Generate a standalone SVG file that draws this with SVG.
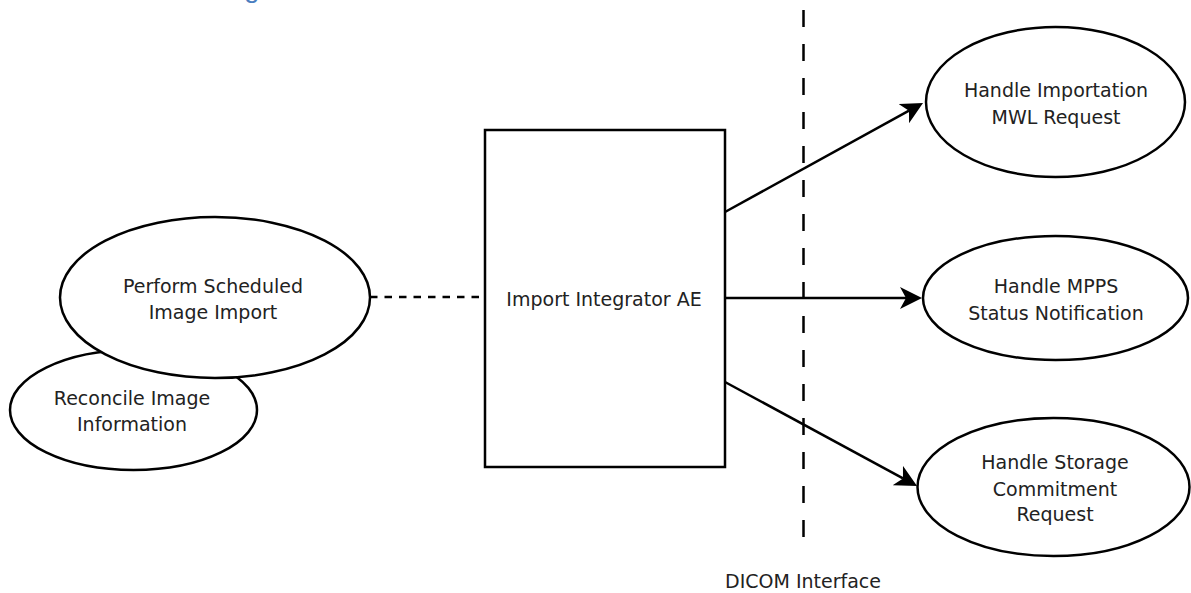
<svg xmlns="http://www.w3.org/2000/svg" width="1191" height="593" viewBox="0 0 1191 593">
  <style>
    .shape { fill: #ffffff; stroke: #000000; stroke-width: 2.5; }
    .lbl { font-family: "DejaVu Sans", Verdana, sans-serif; font-size: 19px; fill: #222222; text-anchor: middle; }
    .conn { fill: none; stroke: #000000; stroke-width: 2.5; }
    .title { font-family: "Liberation Sans", Arial, sans-serif; font-size: 28px; fill: #4A7EC0; }
  </style>
  <defs>
    <marker id="arrow" viewBox="0 0 22 22" refX="6" refY="11" markerWidth="22" markerHeight="22" markerUnits="userSpaceOnUse" orient="auto">
      <path d="M22,11 L0,0 L6,11 L0,22 Z" fill="#000000"/>
    </marker>
  </defs>
  <rect width="1191" height="593" fill="#ffffff"/>

  <text class="title" x="244" y="-3">g</text>

  <g id="connectors">
    <line class="conn" x1="370" y1="297" x2="485" y2="297" stroke-dasharray="7.5 7"/>
    <line class="conn" x1="803.5" y1="10" x2="803.5" y2="537" stroke-width="3" stroke-dasharray="17 17"/>
    <line class="conn" x1="725" y1="212" x2="909" y2="110.7" marker-end="url(#arrow)"/>
    <line class="conn" x1="725" y1="298" x2="906" y2="298" marker-end="url(#arrow)"/>
    <line class="conn" x1="725" y1="382" x2="903" y2="478.4" marker-end="url(#arrow)"/>
  </g>

  <g id="reconcile">
    <ellipse class="shape" cx="133.5" cy="410" rx="123.5" ry="60"/>
    <text class="lbl" x="132" y="405">Reconcile Image</text>
    <text class="lbl" x="132" y="431">Information</text>
  </g>

  <g id="perform">
    <ellipse class="shape" cx="215" cy="297.5" rx="155" ry="80.5"/>
    <text class="lbl" x="213" y="293">Perform Scheduled</text>
    <text class="lbl" x="213" y="319">Image Import</text>
  </g>

  <g id="integrator">
    <rect class="shape" x="485" y="130" width="240" height="337"/>
    <text class="lbl" x="604" y="306">Import Integrator AE</text>
  </g>

  <g id="mwl">
    <ellipse class="shape" cx="1055.5" cy="102" rx="129.5" ry="75"/>
    <text class="lbl" x="1056" y="97">Handle Importation</text>
    <text class="lbl" x="1056" y="124">MWL Request</text>
  </g>

  <g id="mpps">
    <ellipse class="shape" cx="1055.5" cy="298" rx="132.5" ry="62"/>
    <text class="lbl" x="1056" y="293">Handle MPPS</text>
    <text class="lbl" x="1056" y="320">Status Notification</text>
  </g>

  <g id="storage">
    <ellipse class="shape" cx="1053.5" cy="487" rx="136" ry="69"/>
    <text class="lbl" x="1055" y="469">Handle Storage</text>
    <text class="lbl" x="1055" y="495.5">Commitment</text>
    <text class="lbl" x="1055" y="521">Request</text>
  </g>

  <g id="dicom-label">
    <text class="lbl" x="803" y="588">DICOM Interface</text>
  </g>
</svg>
